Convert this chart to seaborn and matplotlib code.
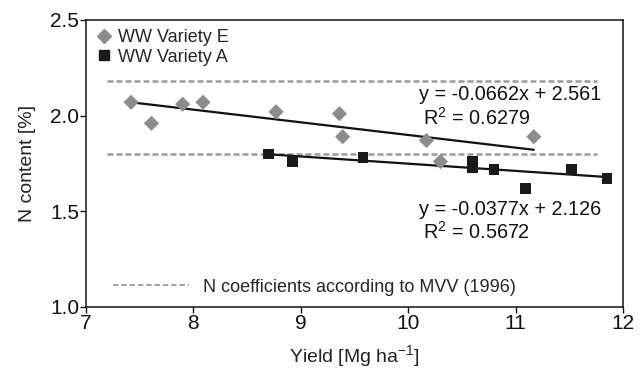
import numpy as np
import pandas as pd
import matplotlib
matplotlib.use('Agg')
import matplotlib.pyplot as plt
from matplotlib.lines import Line2D
import seaborn as sns

# Variety E (grey diamonds)
yield_e = [7.42, 7.61, 7.90, 8.09, 8.77, 9.36, 9.39, 10.17, 10.30, 11.17]
n_e = [2.07, 1.96, 2.06, 2.07, 2.02, 2.01, 1.89, 1.87, 1.76, 1.89]
# Variety A (black squares)
yield_a = [8.70, 8.92, 9.58, 10.60, 10.60, 10.80, 11.09, 11.52, 11.85]
n_a = [1.80, 1.76, 1.78, 1.76, 1.73, 1.72, 1.62, 1.72, 1.67]

# regression coefficients printed on the chart
slope_e, icpt_e, r2_e = -0.0662, 2.561, 0.6279
slope_a, icpt_a, r2_a = -0.0377, 2.126, 0.5672

# MVV (1996) reference levels
mvv_levels = [2.18, 1.80]
mvv_xrange = [7.2, 11.76]

sns.set_theme(style='ticks')
plt.rcParams['font.family'] = ['Liberation Sans', 'DejaVu Sans']
plt.rcParams['mathtext.default'] = 'regular'

df = pd.DataFrame({
    'yield': yield_e + yield_a,
    'n': n_e + n_a,
    'variety': ['WW Variety E'] * len(yield_e) + ['WW Variety A'] * len(yield_a),
})

fig = plt.figure(figsize=(6.43, 3.70), dpi=100)
ax = fig.add_axes([0.1337, 0.1703, 0.8352, 0.7757])

grey = '#8c8c8c'
dash_grey = '#9a9a9a'

# reference lines
for lvl in mvv_levels:
    sns.lineplot(x=mvv_xrange, y=[lvl, lvl], ax=ax, color=dash_grey, lw=1.8,
                 linestyle=(0, (2.4, 1.2)), legend=False)

# regression lines from the printed equations
xe = np.array([min(yield_e), max(yield_e)])
xa = np.array([min(yield_a), max(yield_a)])
sns.lineplot(x=xe, y=slope_e * xe + icpt_e, ax=ax, color='#111111', lw=1.6, legend=False)
sns.lineplot(x=xa, y=slope_a * xa + icpt_a, ax=ax, color='#111111', lw=1.6, legend=False)

sns.scatterplot(data=df, x='yield', y='n', hue='variety', style='variety',
                palette={'WW Variety E': grey, 'WW Variety A': '#1a1a1a'},
                markers={'WW Variety E': 'D', 'WW Variety A': 's'},
                s=60, edgecolor='none', ax=ax, legend=False, zorder=3)

ax.set_xlim(7, 12)
ax.set_ylim(1.0, 2.5)
ax.set_xticks([7, 8, 9, 10, 11, 12])
ax.set_yticks([1.0, 1.5, 2.0, 2.5])
ax.set_yticklabels(['1.0', '1.5', '2.0', '2.5'])
ax.tick_params(direction='out', length=4, width=1, labelsize=15, colors='#111111', pad=1)
for sp in ax.spines.values():
    sp.set_color('#111111')
    sp.set_linewidth(1.1)

ax.set_xlabel('Yield [Mg ha$^{-1}$]', fontsize=14, color='#222222', labelpad=7)
ax.set_ylabel('N content [%]', fontsize=14, color='#222222', labelpad=10)

# annotations
ax.text(11.80, 2.108, f'y = {slope_e}x + {icpt_e}', ha='right', va='center', fontsize=14.3, color='#111111')
ax.text(10.14, 1.988, f'R$^2$ = {r2_e}', ha='left', va='center', fontsize=14.3, color='#111111')
ax.text(11.80, 1.507, f'y = {slope_a}x + {icpt_a}', ha='right', va='center', fontsize=14.3, color='#111111')
ax.text(10.14, 1.392, f'R$^2$ = {r2_a}', ha='left', va='center', fontsize=14.3, color='#111111')

h_var = [Line2D([], [], marker='D', color=grey, linestyle='none', markersize=7),
         Line2D([], [], marker='s', color='#1a1a1a', linestyle='none', markersize=7)]
leg1 = ax.legend(h_var, ['WW Variety E', 'WW Variety A'], loc='upper left', frameon=False,
                 fontsize=13, handletextpad=0.3, labelspacing=0.15, borderaxespad=0.3,
                 handlelength=1.0, borderpad=0.2)
ax.add_artist(leg1)
h_ref = [Line2D([], [], color=dash_grey, lw=1.3, linestyle=(0, (3.0, 1.6)))]
ax.legend(h_ref, ['N coefficients according to MVV (1996)'], loc='lower left', frameon=False,
          fontsize=13, handlelength=4.2, handletextpad=0.8, borderaxespad=0.5,
          bbox_to_anchor=(0.02, -0.017))

fig.savefig('out.png', dpi=100)
